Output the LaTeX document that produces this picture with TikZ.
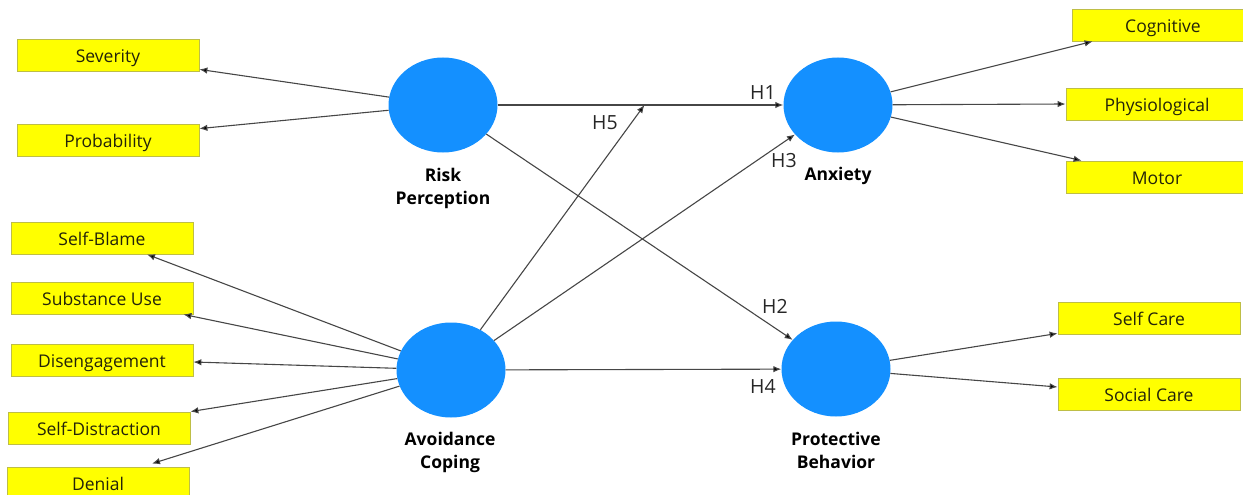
\documentclass[tikz,border=0pt]{standalone}
\usepackage{fontspec}
\setmainfont{Open Sans}
\usetikzlibrary{shapes.geometric,arrows.meta,calc}
\definecolor{latblue}{RGB}{20,144,255}
\definecolor{boxyellow}{RGB}{255,255,0}
\definecolor{boxedge}{RGB}{190,190,70}
\definecolor{boxtext}{RGB}{35,35,10}
\definecolor{linegray}{RGB}{70,70,70}
\tikzset{
  ind/.style={rectangle, fill=boxyellow, draw=boxedge, line width=0.8pt,
    minimum width=182pt, minimum height=32pt, inner sep=0pt,
    text height=15.5pt, text depth=0.5pt,
    text=boxtext, font=\fontsize{17.5}{19}\selectfont},
  lat/.style={ellipse, fill=latblue, draw=none, minimum width=109pt,
    minimum height=95pt, inner sep=0pt},
  latlabel/.style={align=center, font=\bfseries\fontsize{17.5}{23}\selectfont, text=black},
  hlab/.style={font=\fontsize{19.5}{21}\selectfont, text=black!85},
  arr/.style={draw=linegray, line width=1.1pt,
    -{Latex[length=8pt,width=6.5pt,fill=black]}}
}
\begin{document}
\begin{tikzpicture}[x=1pt,y=-1pt]
\useasboundingbox (0,0) rectangle (1243,495);

% latent variables
\node[lat] (rp)  at (443,105) {};
\node[lat] (anx) at (838,105) {};
\node[lat] (ac)  at (451,370) {};
\node[lat] (pb)  at (836,369) {};

\node[latlabel] (rpl)  at (443,188) {Risk\\Perception};
\node[latlabel] (anxl) at (838,176) {Anxiety};
\node[latlabel] (acl)  at (450,452) {Avoidance\\Coping};
\node[latlabel] (pbl)  at (836,450) {Protective\\Behavior};

% indicators
\node[ind] (sev)  at (108,55)  {Severity};
\node[ind] (prob) at (108,140) {Probability};
\node[ind] (sb)   at (102,238) {Self-Blame};
\node[ind] (su)   at (102,298) {Substance Use};
\node[ind] (dis)  at (102,360) {Disengagement};
\node[ind] (sd)   at (99,428)  {Self-Distraction};
\node[ind] (den)  at (98,483)  {Denial};
\node[ind] (cog)  at (1163,25) {Cognitive};
\node[ind] (phy)  at (1157,104) {Physiological};
\node[ind] (mot)  at (1157,177) {Motor};
\node[ind] (sc)   at (1149,318) {Self Care};
\node[ind] (soc)  at (1149,394) {Social Care};

% moderation point on H1 path
\coordinate (mod) at ($(rp.center)!0.51!(anx.center)$);

% structural paths
\draw[arr] (rp) -- (anx);
\draw[arr] (ac) -- (mod);
\draw[arr] (ac) -- (anx);
\draw[arr] (rp) -- (pb);
\draw[arr] (ac) -- (pb);

% hypothesis labels
\node[hlab] (h1) at (763,93)  {H1};
\node[hlab] (h5) at (605,123) {H5};
\node[hlab] (h3) at (784,161) {H3};
\node[hlab] (h2) at (775,306) {H2};
\node[hlab] (h4) at (763,386) {H4};

% measurement paths
\draw[arr] (rp) -- ([yshift=2pt]sev.south east);
\draw[arr] (rp) -- ([yshift=-5pt]prob.north east);
\draw[arr] (ac) -- ([xshift=45pt]sb.south);
\draw[arr] (ac) -- ([xshift=-10pt]su.south east);
\draw[arr] (ac) -- ([yshift=-2pt]dis.east);
\draw[arr] (ac) -- (sd.north east);
\draw[arr] (ac) -- ([xshift=54pt,yshift=3pt]den.north);
\draw[arr] (anx) -- ([xshift=21pt]cog.south west);
\draw[arr] (anx) -- (phy.west);
\draw[arr] (anx) -- ([xshift=16pt]mot.north west);
\draw[arr] (pb) -- ([yshift=1pt]sc.south west);
\draw[arr] (pb) -- ([yshift=7pt]soc.west);
\end{tikzpicture}
\end{document}
